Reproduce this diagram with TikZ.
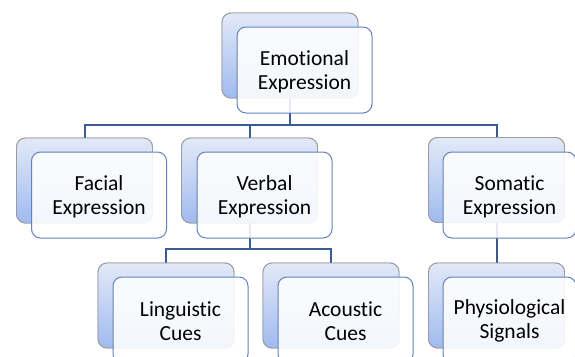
\documentclass[tikz,border=0pt]{standalone}
\usepackage{fontspec}
\setmainfont[Ligatures=NoCommon]{Carlito}
\usetikzlibrary{positioning}
\definecolor{conncol}{HTML}{3B5B93}
\definecolor{frontcol}{HTML}{6282BE}
\definecolor{backcol}{HTML}{9C9C9C}
\definecolor{backtop}{HTML}{E2E9F8}
\definecolor{backbot}{HTML}{A0BAEF}
\tikzset{
  backbox/.style={draw=backcol, line width=0.9pt, rounded corners=9pt, top color=backtop, bottom color=backbot,
    minimum width=136pt, minimum height=85pt, inner sep=0pt, outer sep=0pt},
  frontbox/.style={draw=frontcol, line width=1pt, rounded corners=9pt, fill=white, fill opacity=0.88, text opacity=1,
    minimum width=135pt, minimum height=86pt, inner sep=0pt, outer sep=0pt},
  frontlabel/.style={align=center, font=\fontsize{21.5}{24.5}\selectfont, text=black, inner sep=0pt},
  conn/.style={draw=conncol, line width=2pt}
}
\begin{document}
\begin{tikzpicture}[x=1pt,y=-1pt]
\useasboundingbox (0,0) rectangle (575,356);
\clip (0,0) rectangle (575,356);
% back boxes
\node[backbox] (eB) at (290,55.5) {};
\node[backbox] (fB) at (84.5,180.5) {};
\node[backbox] (vB) at (249.5,180.5) {};
\node[backbox] (sB) at (496.5,180) {};
\node[backbox] (lB) at (166,305.5) {};
\node[backbox] (aB) at (331,305.5) {};
\node[backbox] (pB) at (496.5,305.5) {};
% connectors
\coordinate (bus1) at (0,125);
\coordinate (bus2) at (0,249);
\draw[conn] (eB.south) -- (eB.south |- bus1) -| (fB.north);
\draw[conn] (eB.south |- bus1) -| (vB.north);
\draw[conn] (eB.south |- bus1) -| (sB.north);
\draw[conn] (vB.south) -- (vB.south |- bus2) -| (lB.north);
\draw[conn] (vB.south |- bus2) -| (aB.north);
\draw[conn] (sB.south) -- (pB.north);
% redraw back boxes over connectors
\node[backbox] at (eB) {};
\node[backbox] at (fB) {};
\node[backbox] at (vB) {};
\node[backbox] at (sB) {};
\node[backbox] at (lB) {};
\node[backbox] at (aB) {};
\node[backbox] at (pB) {};
% front boxes
\node[frontbox] (eF) at (304.5,70) {};
\node[frontbox] (fF) at (99,195) {};
\node[frontbox] (vF) at (264.5,195) {};
\node[frontbox, minimum width=133pt] (sF) at (509.5,195) {};
\node[frontbox] (lF) at (180.5,320) {};
\node[frontbox] (aF) at (345.5,320) {};
\node[frontbox, minimum width=133pt] (pF) at (509.5,320) {};
% labels
\node[frontlabel] at ([yshift=-2pt]eF.center) {Emotional\\Expression};
\node[frontlabel] at ([yshift=-2pt]fF.center) {Facial\\Expression};
\node[frontlabel] at ([yshift=-2pt]vF.center) {Verbal\\Expression};
\node[frontlabel] at ([yshift=-2pt]sF.center) {Somatic\\Expression};
\node[frontlabel] at ([yshift=-1pt]lF.center) {Linguistic\\Cues};
\node[frontlabel] at ([yshift=-1pt]aF.center) {Acoustic\\Cues};
\node[frontlabel] at ([yshift=-1pt]pF.center) {Physiological\\Signals};
\end{tikzpicture}
\end{document}
